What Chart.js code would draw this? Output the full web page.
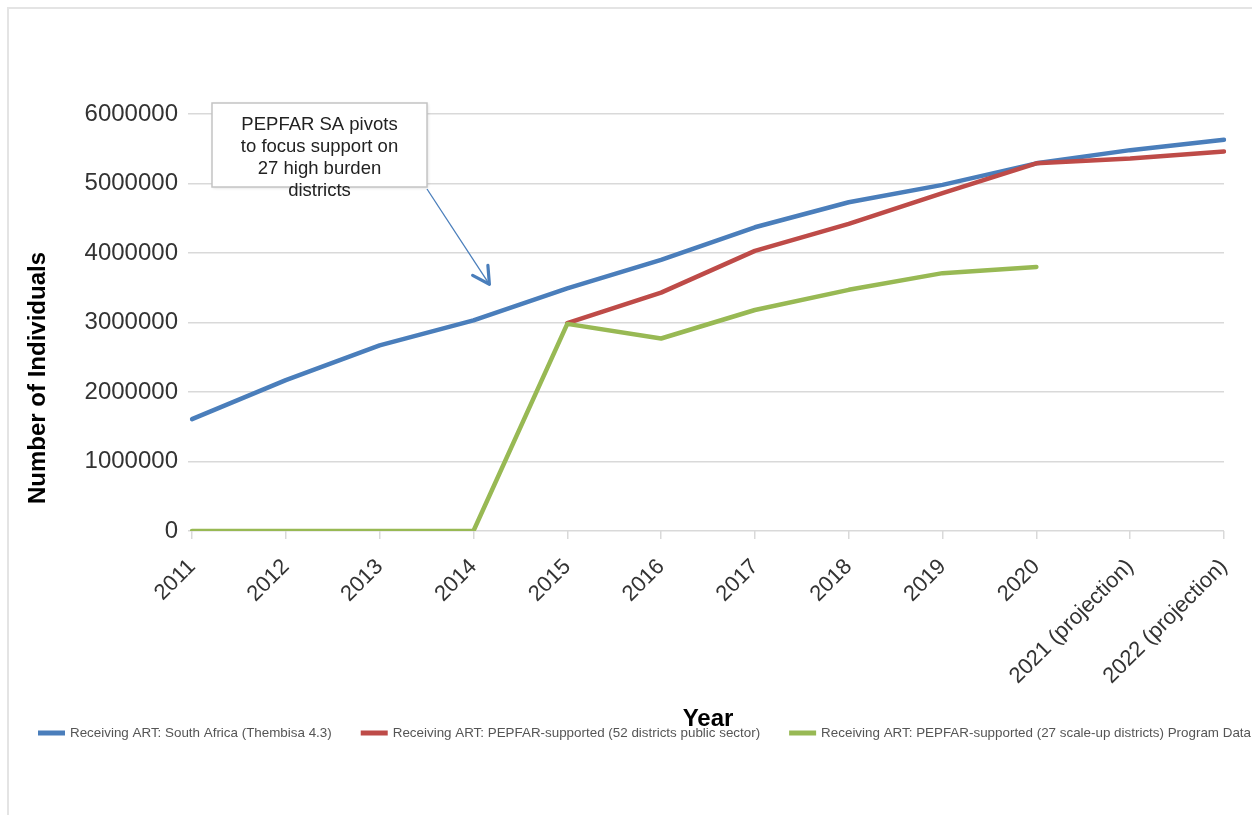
<!DOCTYPE html>
<html><head><meta charset="utf-8">
<script src="https://cdn.jsdelivr.net/npm/chart.js@4.4.1/dist/chart.umd.min.js"></script>
<style>
html,body{margin:0;padding:0;background:#fff;}
#wrap{position:relative;width:1252px;height:815px;overflow:hidden;background:#fff;}
#frame{position:absolute;left:7px;top:7px;width:1260px;height:806px;border-top:2px solid #e4e4e4;border-left:2px solid #e4e4e4;}
canvas{position:absolute;left:0;top:0;}
</style></head><body>
<div id="wrap"><div id="frame"></div><canvas id="c" width="1252" height="815"></canvas></div>
<script>
// ---- data ----
const years = ['2011','2012','2013','2014','2015','2016','2017','2018','2019','2020','2021 (projection)','2022 (projection)'];
const seriesNames = [
  'Receiving ART: South Africa (Thembisa 4.3)',
  'Receiving ART: PEPFAR-supported (52 districts public sector)',
  'Receiving ART: PEPFAR-supported (27 scale-up districts) Program Data'
];
const southAfrica = [1610000, 2170000, 2670000, 3030000, 3490000, 3900000, 4370000, 4730000, 4980000, 5290000, 5480000, 5630000];
const pepfar52    = [null, null, null, null, 2990000, 3430000, 4030000, 4420000, 4860000, 5290000, 5360000, 5460000];
const pepfar27    = [0, 0, 0, 0, 2980000, 2770000, 3180000, 3470000, 3710000, 3800000, null, null];
const yTickValues = [0, 1000000, 2000000, 3000000, 4000000, 5000000, 6000000];
const seriesColors = ['#4a7ebb', '#be4b48', '#98b954'];
const yAxisTitle = 'Number of Individuals';
const xAxisTitle = 'Year';
const annotationLines = ['PEPFAR SA pivots', 'to focus support on', '27 high burden', 'districts'];
const arrowTarget = {index: 3.17, value: 3550000};

const FONT = "'Liberation Sans', Arial, sans-serif";

const annotationPlugin = {
  id: 'annot',
  afterDatasetsDraw(chart) {
    const ctx = chart.ctx, ca = chart.chartArea;
    const bx = ca.left + 20, by = ca.top - 11, bw = 215, bh = 84;
    ctx.save();
    ctx.shadowColor = 'rgba(0,0,0,0.15)';
    ctx.shadowBlur = 3; ctx.shadowOffsetX = 1; ctx.shadowOffsetY = 1;
    ctx.fillStyle = '#fff';
    ctx.fillRect(bx, by, bw, bh);
    ctx.shadowColor = 'transparent';
    ctx.strokeStyle = '#c4c4c4'; ctx.lineWidth = 1.5;
    ctx.strokeRect(bx, by, bw, bh);
    ctx.fillStyle = '#222';
    ctx.font = '18.5px ' + FONT;
    ctx.textAlign = 'center'; ctx.textBaseline = 'middle';
    annotationLines.forEach((t, i) => ctx.fillText(t, bx + bw / 2, by + 22 + i * 22));
    // arrow
    const x0 = bx + bw, y0 = by + bh + 2;
    const x1 = chart.scales.x.getPixelForValue(arrowTarget.index);
    const y1 = chart.scales.y.getPixelForValue(arrowTarget.value);
    ctx.strokeStyle = '#4a7ebb'; ctx.lineWidth = 1.3;
    ctx.beginPath(); ctx.moveTo(x0, y0); ctx.lineTo(x1, y1); ctx.stroke();
    const ang = Math.atan2(y1 - y0, x1 - x0);
    const L = 19, spread = 0.5;
    ctx.lineWidth = 3.2; ctx.lineCap = 'round'; ctx.lineJoin = 'round';
    ctx.beginPath();
    ctx.moveTo(x1 - L * Math.cos(ang - spread), y1 - L * Math.sin(ang - spread));
    ctx.lineTo(x1, y1);
    ctx.lineTo(x1 - L * Math.cos(ang + spread), y1 - L * Math.sin(ang + spread));
    ctx.stroke();
    ctx.restore();
  }
};

const yTitlePlugin = {
  id: 'yTitle',
  afterDraw(chart) {
    const ctx = chart.ctx;
    ctx.save();
    ctx.translate(38, 378);
    ctx.rotate(-Math.PI / 2);
    ctx.font = 'bold 24px ' + FONT;
    ctx.fillStyle = '#000';
    ctx.textAlign = 'center'; ctx.textBaseline = 'middle';
    ctx.fillText(yAxisTitle, 0, 0);
    ctx.restore();
  }
};

const legendPlugin = {
  id: 'customLegend',
  afterDraw(chart) {
    const ctx = chart.ctx;
    ctx.save();
    ctx.font = '13.4px ' + FONT;
    ctx.textBaseline = 'middle'; ctx.textAlign = 'left';
    let x = 38; const y = 733;
    chart.data.datasets.forEach(ds => {
      ctx.fillStyle = ds.borderColor;
      ctx.fillRect(x, y - 2.5, 27, 5);
      x += 32;
      ctx.fillStyle = '#555';
      ctx.fillText(ds.label, x, y);
      x += ctx.measureText(ds.label).width + 29;
    });
    ctx.restore();
  }
};

const mk = (i, data, order) => ({
  label: seriesNames[i], data, borderColor: seriesColors[i], backgroundColor: seriesColors[i],
  borderWidth: 4.5, pointRadius: 0, pointHoverRadius: 0, tension: 0, fill: false, spanGaps: false,
  borderCapStyle: 'round', borderJoinStyle: 'round', order
});

new Chart(document.getElementById('c'), {
  type: 'line',
  data: {
    labels: years,
    datasets: [mk(0, southAfrica, 2), mk(1, pepfar52, 1), mk(2, pepfar27, 0)]
  },
  options: {
    responsive: false, animation: false, devicePixelRatio: 1, events: [],
    layout: {padding: {left: 8, right: 28, top: 114, bottom: 83}},
    plugins: {legend: {display: false}, tooltip: {enabled: false}},
    scales: {
      x: {
        offset: false,
        grid: {drawOnChartArea: false, drawTicks: true, tickLength: 8, color: '#d9d9d9', lineWidth: 1.5},
        border: {display: false},
        ticks: {autoSkip: false, maxRotation: 45, minRotation: 45, padding: 15, color: '#333', font: {family: FONT, size: 22}},
        title: {display: true, text: xAxisTitle, color: '#000', padding: {top: 0, bottom: -2}, font: {family: FONT, size: 24, weight: 'bold'}},
        afterFit(s) { s.height = 201; s.paddingLeft = 0; s.paddingRight = 0; }
      },
      y: {
        min: 0, max: 6000000,
        afterBuildTicks(s) { s.ticks = yTickValues.map(v => ({value: v})); },
        grid: {color: '#d9d9d9', lineWidth: 1.5, tickLength: 4},
        border: {display: false},
        ticks: {padding: 10, color: '#333', font: {family: FONT, size: 24}, callback: v => String(v)},
        title: {display: false},
        afterFit(s) { s.width = 184; }
      }
    }
  },
  plugins: [annotationPlugin, yTitlePlugin, legendPlugin]
});
</script>
</body></html>
